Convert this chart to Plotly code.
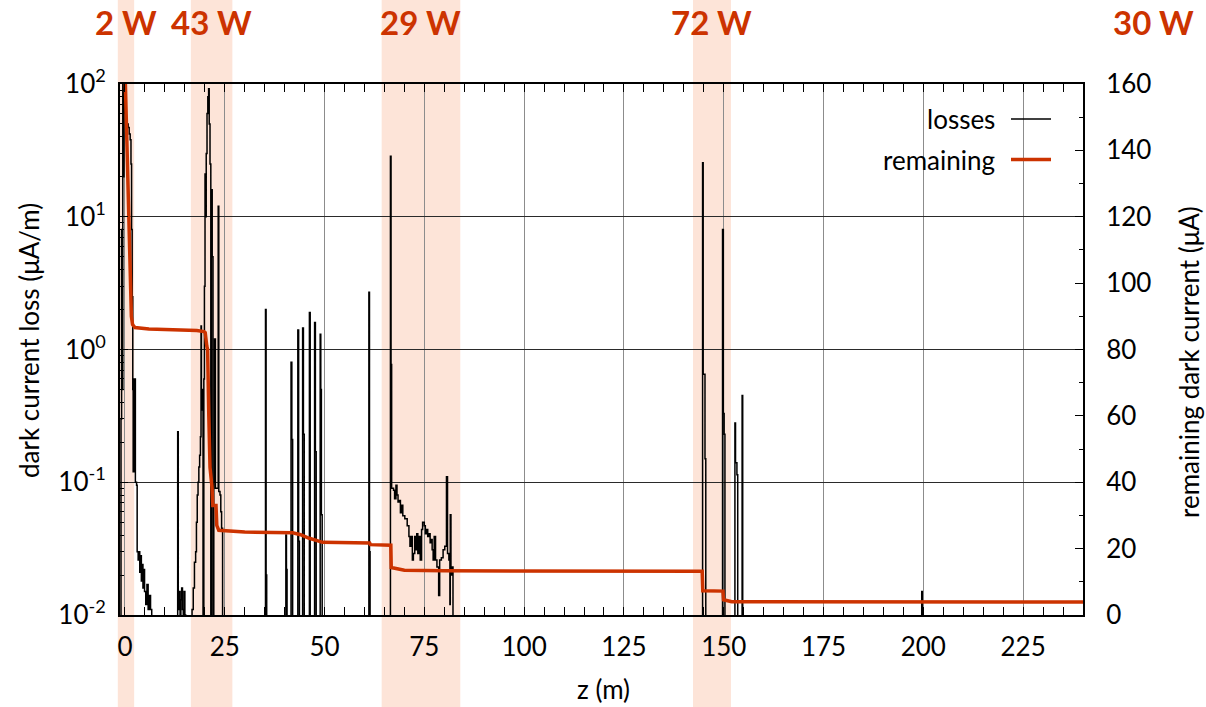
import plotly.graph_objects as go

# Dark-current loss profile along the beamline, as histogram bins (z start in m, loss in uA/m).
# A loss of 1e-4 marks an empty bin (below the axis floor).
loss_gun = [
    (-1.2, 1e-4), (-1.0, 0.3), (-0.85, 8), (-0.7, 0.5), (-0.55, 150), (-0.4, 20),
    (-0.25, 150), (0.0, 60), (0.3, 55), (0.55, 50), (0.8, 47), (1.05, 42), (1.3, 38),
    (1.5, 25), (1.65, 8), (1.8, 2.5), (1.95, 0.5), (2.05, 0.12), (2.3, 0.6), (2.6, 0.1),
    (2.9, 0.095), (3.05, 0.03), (3.3, 0.026), (3.5, 0.03), (3.7, 0.021), (3.9, 0.028),
    (4.1, 0.018), (4.3, 0.024), (4.5, 0.016), (4.7, 0.022), (4.9, 0.015), (5.2, 0.012),
    (5.5, 0.017), (5.8, 0.011), (6.1, 0.014), (6.4, 0.011), (6.7, 1e-4),
]
loss_drift = [
    (13.0, 1e-4), (13.2, 0.24), (13.35, 0.011), (13.6, 0.015), (13.8, 1e-4), (14.0, 0.013),
    (14.2, 0.016), (14.4, 0.011), (14.6, 1e-4), (14.8, 0.015), (15.0, 0.01), (15.2, 1e-4),
]
loss_section1 = [
    (16.8, 0.011), (17.1, 0.016), (17.4, 0.025), (17.7, 0.03), (17.9, 0.05), (18.1, 0.08),
    (18.3, 0.1), (18.5, 0.13), (18.7, 0.16), (18.9, 0.22), (19.05, 1.5), (19.15, 0.35),
    (19.35, 0.5), (19.55, 1e-4), (19.75, 0.6), (19.9, 3), (20.05, 21), (20.2, 10),
    (20.35, 30), (20.55, 60), (20.75, 80), (20.95, 92), (21.1, 50), (21.3, 25),
    (21.5, 1e-4), (21.65, 16), (21.85, 5), (22.05, 1e-4), (22.25, 0.1), (22.45, 1.2),
    (22.65, 0.09), (23.35, 12), (23.5, 0.085), (23.8, 0.08), (24.0, 0.06), (24.2, 0.045),
    (24.45, 1e-4),
]
loss_spikes = [
    (35.2, 2.0), (35.35, 0.02), (35.5, 1e-4),
    (40.3, 0.04), (40.45, 0.022), (40.6, 1e-4),
    (41.6, 0.8), (41.8, 0.21), (42.0, 1e-4),
    (43.3, 1.4), (43.5, 0.036), (43.7, 1e-4),
    (44.5, 1.45), (44.7, 0.23), (44.9, 1e-4),
    (46.2, 1.9), (46.4, 1e-4),
    (47.5, 1.6), (47.7, 0.17), (47.9, 1e-4),
    (48.9, 1.3), (49.05, 0.5), (49.2, 0.057), (49.4, 1e-4),
    (61.1, 2.7), (61.25, 0.03), (61.4, 1e-4),
]
loss_section2 = [
    (66.5, 28.6), (66.65, 0.77), (66.8, 0.09), (67.03, 0.09), (67.28, 0.087),
    (67.54, 0.075), (67.88, 0.095), (68.14, 0.08), (68.4, 0.071), (68.74, 0.073),
    (69.0, 0.059), (69.25, 0.067), (69.6, 0.056), (70.1, 0.053), (70.7, 0.047),
    (71.13, 0.039), (71.39, 0.033), (71.73, 0.039), (71.99, 0.026), (72.25, 0.029),
    (72.59, 0.039), (72.85, 0.031), (73.1, 0.041), (73.36, 0.029), (73.7, 0.039),
    (73.96, 0.026), (74.3, 0.044), (74.56, 0.05), (74.98, 0.047), (75.24, 0.041),
    (75.5, 0.044), (75.84, 0.039), (76.1, 0.041), (76.44, 0.035), (76.7, 0.037),
    (76.95, 0.031), (77.2, 0.026), (77.46, 0.039), (77.8, 0.026), (78.15, 0.023),
    (78.58, 0.014), (78.83, 0.026), (79.26, 0.027), (79.69, 0.031), (80.11, 0.033),
    (80.54, 0.11), (80.8, 0.029), (81.14, 0.026), (81.4, 0.012), (81.49, 0.057),
    (81.66, 0.02), (81.91, 0.023), (82.17, 1e-4),
]
loss_section3 = [
    (144.7, 25.5), (144.85, 0.65), (145.3, 0.15), (145.5, 1e-4),
    (149.7, 8.0), (149.9, 0.33), (150.1, 0.23), (150.3, 1e-4),
    (152.8, 0.28), (152.95, 0.14), (153.3, 0.114), (153.5, 1e-4),
    (154.6, 0.45), (154.75, 1e-4),
    (199.6, 0.015), (199.75, 1e-4), (240.0, 1e-4),
]

# Remaining dark current (uA) along z
rem_z = [0.1, 0.6, 1.1, 1.6, 1.9, 2.5, 6.0, 12.0, 18.0, 19.8, 20.1, 20.5, 20.7, 21.0,
         21.3, 21.8, 22.0, 22.8, 23.0, 23.5, 30.0, 42.0, 44.0, 46.0, 48.0, 49.5, 61.3,
         61.5, 66.6, 66.7, 70.0, 80.0, 144.6, 144.75, 149.8, 149.95, 152.0, 240.0]
rem_val = [160, 138, 115, 90, 87.5, 86.6, 86.2, 86.0, 85.7, 85.4, 85.1, 81, 80, 60,
           44.5, 38.5, 33, 33, 27, 25.5, 25.0, 24.8, 24.2, 23.2, 22.4, 21.9, 21.7,
           21.2, 21.0, 14.3, 13.5, 13.3, 13.2, 7.3, 7.2, 4.6, 4.0, 3.9]

# Sections with significant deposited power
band_start = [-1.8, 16.5, 64.3, 142.3]
band_end = [2.3, 26.9, 84.0, 151.8]
band_power = ["2 W", "43 W", "29 W", "72 W"]
beyond_power = "30 W"

x_ticks = [0, 25, 50, 75, 100, 125, 150, 175, 200, 225]
y_tickvals = [0.01, 0.1, 1, 10, 100]
y_ticktext = ["10<sup>-2</sup>", "10<sup>-1</sup>", "10<sup>0</sup>", "10<sup>1</sup>", "10<sup>2</sup>"]
y2_ticks = [0, 20, 40, 60, 80, 100, 120, 140, 160]

loss_bins = loss_gun + loss_drift + loss_section1 + loss_spikes + loss_section2 + loss_section3
loss_z = [z for z, _ in loss_bins]
loss_val = [v for _, v in loss_bins]

W, H = 1206, 707
ML, MR, MT, MB = 120, 123, 84, 92
PW, PH = W - ML - MR, H - MT - MB
X_RANGE = [-1.25, 240]

ORANGE = "#cc3300"
BAND = "#fde4d8"
FONT = "Lato"
TICK_SIZE = 26


def px_x(p):
    return (p - ML) / PW


def px_y(p):
    return (H - MB - p) / PH


def data_x(z):
    return (z - X_RANGE[0]) / (X_RANGE[1] - X_RANGE[0])


fig = go.Figure()
fig.add_trace(go.Scatter(
    x=loss_z, y=loss_val, mode="lines", line=dict(color="black", width=1.5, shape="hv"),
    name="losses", showlegend=False, yaxis="y"))
fig.add_trace(go.Scatter(
    x=rem_z, y=rem_val, mode="lines", line=dict(color=ORANGE, width=3.5),
    name="remaining", showlegend=False, yaxis="y2"))

shapes = []
annotations = []
for x0, x1, label in zip(band_start, band_end, band_power):
    shapes.append(dict(type="rect", xref="paper", yref="paper", x0=data_x(x0), x1=data_x(x1),
                       y0=px_y(H), y1=px_y(0), fillcolor=BAND, line=dict(width=0),
                       layer="below"))
    annotations.append(dict(text=f"<b>{label}</b>", xref="paper", yref="paper",
                            x=data_x((x0 + x1) / 2), y=px_y(22), showarrow=False,
                            xanchor="center", yanchor="middle",
                            font=dict(family=FONT, size=33, color=ORANGE)))
annotations.append(dict(text=f"<b>{beyond_power}</b>", xref="paper", yref="paper",
                        x=px_x(1153), y=px_y(22), showarrow=False,
                        xanchor="center", yanchor="middle",
                        font=dict(family=FONT, size=33, color=ORANGE)))

# legend drawn gnuplot-style: text on the left, sample line on the right
for text, yy, color, width in [("losses", 119, "black", 1.5), ("remaining", 159.5, ORANGE, 3.5)]:
    annotations.append(dict(text=text, xref="paper", yref="paper", x=px_x(997), y=px_y(yy),
                            xanchor="right", yanchor="middle", showarrow=False,
                            font=dict(family=FONT, size=TICK_SIZE, color="black")))
    shapes.append(dict(type="line", xref="paper", yref="paper", x0=px_x(1011), x1=px_x(1051),
                       y0=px_y(yy), y1=px_y(yy), line=dict(color=color, width=width)))

# axis titles
annotations.append(dict(text="dark current loss (μA/m)", xref="paper", yref="paper",
                        x=px_x(29), y=px_y(341), textangle=-90, showarrow=False,
                        xanchor="center", yanchor="middle",
                        font=dict(family=FONT, size=TICK_SIZE, color="black")))
annotations.append(dict(text="remaining dark current (μA)", xref="paper", yref="paper",
                        x=px_x(1189), y=px_y(362), textangle=-90, showarrow=False,
                        xanchor="center", yanchor="middle",
                        font=dict(family=FONT, size=TICK_SIZE, color="black")))
annotations.append(dict(text="z (m)", xref="paper", yref="paper",
                        x=px_x(603), y=px_y(689), showarrow=False,
                        xanchor="center", yanchor="middle",
                        font=dict(family=FONT, size=TICK_SIZE, color="black")))

fig.update_layout(
    width=W, height=H,
    margin=dict(l=ML, r=MR, t=MT, b=MB, autoexpand=False),
    paper_bgcolor="white", plot_bgcolor="rgba(0,0,0,0)",
    font=dict(family=FONT, size=TICK_SIZE, color="black"),
    shapes=shapes, annotations=annotations,
    xaxis=dict(range=X_RANGE, tickmode="array", tickvals=x_ticks,
               ticks="inside", ticklen=8, tickwidth=1.2, tickcolor="black",
               showline=True, linecolor="black", linewidth=2, mirror="allticks",
               showgrid=True, gridcolor="#8c8c8c", gridwidth=1, zeroline=False,
               minor=dict(dtick=5, tick0=0, ticks="inside", ticklen=4, tickcolor="black",
                          showgrid=False),
               ticklabelstandoff=8, tickfont=dict(size=TICK_SIZE)),
    yaxis=dict(type="log", range=[-2, 2], tickmode="array", tickvals=y_tickvals,
               ticktext=y_ticktext, ticks="inside", ticklen=8, tickwidth=1.2,
               tickcolor="black", showline=True, linecolor="black", linewidth=2,
               mirror=True, showgrid=True, gridcolor="#2a2a2a", gridwidth=1,
               zeroline=False,
               minor=dict(dtick="D1", ticks="inside", ticklen=4, tickcolor="black",
                          showgrid=False),
               ticklabelstandoff=7, tickfont=dict(size=TICK_SIZE)),
    yaxis2=dict(overlaying="y", side="right", range=[0, 160], tickmode="array",
                tickvals=y2_ticks, ticks="inside", ticklen=8, tickwidth=1.2,
                tickcolor="black", showline=True, linecolor="black", linewidth=2,
                showgrid=False, zeroline=False,
                minor=dict(dtick=10, tick0=0, ticks="inside", ticklen=4, tickcolor="black",
                           showgrid=False),
                ticklabelstandoff=16, tickfont=dict(size=TICK_SIZE)),
)

fig.write_html("out.html")
